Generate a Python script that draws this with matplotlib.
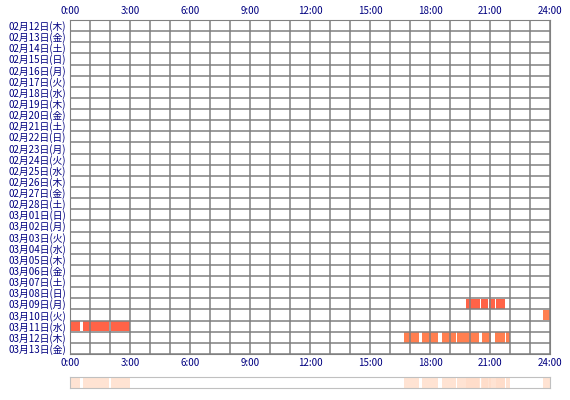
import matplotlib
matplotlib.use("Agg")
import matplotlib.pyplot as plt
import datetime

plt.rcParams['font.family'] = ['Noto Sans CJK JP', 'DejaVu Sans']

wd = "月火水木金土日"
start = datetime.date(2015, 2, 12)
days = [start + datetime.timedelta(d) for d in range(30)]
labels = [f"{d.month:02d}月{d.day:02d}日({wd[d.weekday()]})" for d in days]

# segments (start hour, end hour) per row label
sessions = {
    "03月09日(月)": [(19.8, 20.5), (20.55, 20.9), (20.95, 21.25), (21.3, 21.75)],
    "03月10日(火)": [(23.65, 24.0)],
    "03月11日(水)": [(0.03, 0.5), (0.63, 1.95), (2.03, 3.0)],
    "03月12日(木)": [(16.7, 17.45), (17.6, 18.4), (18.6, 19.3), (19.35, 20.43),
                    (20.58, 21.03), (21.23, 21.76), (21.8, 22.0)],
}
colors = {"03月09日(月)": "#ff6347", "03月10日(火)": "#ff7f50",
          "03月11日(水)": "#ff6347", "03月12日(木)": "#ff7f50"}

fig = plt.figure(figsize=(5.7, 4.0), dpi=100)
ax = fig.add_axes([70/570, 46/400, 480/570, 334/400])
n = len(labels)
for lab, segs in sessions.items():
    i = labels.index(lab)
    for s, e in segs:
        ax.barh(i, e - s, left=s, height=0.95, color=colors[lab], zorder=1)
ax.set_xlim(0, 24)
ax.set_ylim(n - 0.5, -0.5)
for h in range(25):
    ax.axvline(h, color="#808080", lw=1.1, zorder=2)
for k in range(n + 1):
    ax.axhline(k - 0.5, color="#808080", lw=1.1, zorder=2)
ax.set_yticks(range(n))
ax.set_yticklabels(labels, fontsize=7, color="#000080")
ax.set_xticks(range(0, 25, 3))
ax.set_xticklabels([f"{h}:00" for h in range(0, 25, 3)], fontsize=7, color="#000080")
ax.tick_params(length=0, pad=3, labeltop=True, top=False)
for sp in ax.spines.values():
    sp.set_color("#808080")

ax2 = fig.add_axes([70/570, 12/400, 480/570, 11/400])
ax2.set_xlim(0, 24)
ax2.set_ylim(0, 1)
for lab, segs in sessions.items():
    for s, e in segs:
        ax2.barh(0.5, e - s, left=s, height=1, color="#ffdcc8", alpha=0.8)
ax2.set_xticks([]); ax2.set_yticks([])
for sp in ax2.spines.values():
    sp.set_color("#c0c0c0")

fig.savefig("out.png", dpi=100)
